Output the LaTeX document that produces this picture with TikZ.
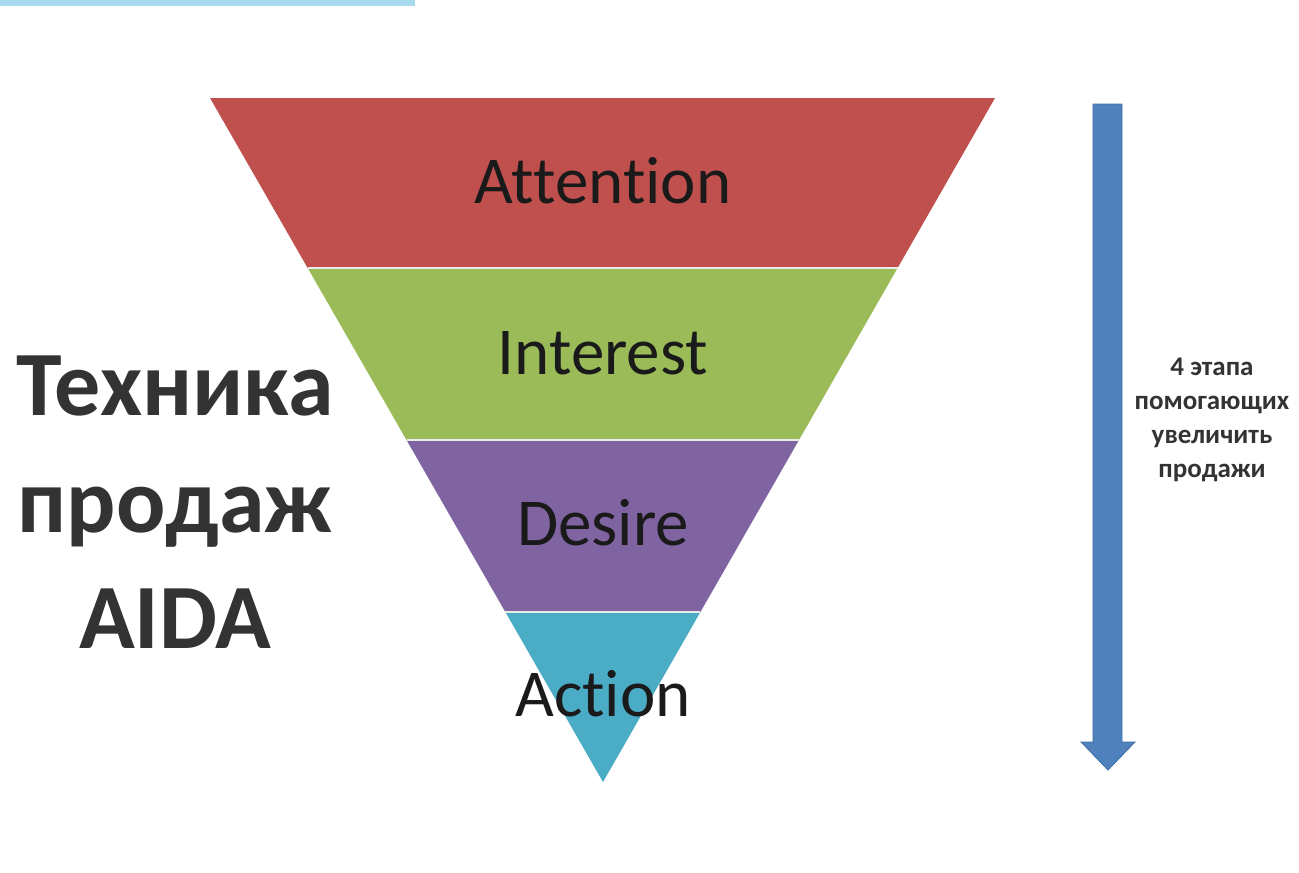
\documentclass[tikz,border=0pt]{standalone}
\usepackage{fontspec}
\setmainfont{Carlito}[Ligatures=NoCommon]
\usetikzlibrary{calc}
\definecolor{cRed}{HTML}{C0504D}
\definecolor{cGreen}{HTML}{9BBB59}
\definecolor{cPurple}{HTML}{8064A2}
\definecolor{cCyan}{HTML}{4BACC6}
\definecolor{cBlue}{HTML}{4F81BD}
\definecolor{cBlueDark}{HTML}{3F6FA8}
\definecolor{cTopBar}{HTML}{A8DAEE}
\definecolor{cText}{HTML}{1A1A1A}
\definecolor{cTitle}{HTML}{333333}
\begin{document}
\begin{tikzpicture}[x=1pt,y=-1pt,
  sep/.style={draw=white!85!gray,line width=1.6pt},
  stage/.style={inner sep=0pt,anchor=base,text=cText,font=\fontsize{67}{78}\selectfont},
  title/.style={inner sep=0pt,anchor=base,text=cTitle,font=\bfseries\fontsize{92}{100}\selectfont},
  note/.style={inner sep=0pt,align=center,text=cTitle,font=\bfseries\fontsize{27}{34}\selectfont}]
\useasboundingbox (0,0) rectangle (1299,873);
\fill[white] (0,0) rectangle (1299,873);
% top bar
\fill[cTopBar] (0,0) rectangle (415,6);
% funnel corners
\coordinate (tl) at (210,98);
\coordinate (tr) at (995,98);
\coordinate (ap) at (603,782);
\coordinate (l1) at ($(tl)!0.2485!(ap)$);
\coordinate (r1) at ($(tr)!0.2485!(ap)$);
\coordinate (l2) at ($(tl)!0.5!(ap)$);
\coordinate (r2) at ($(tr)!0.5!(ap)$);
\coordinate (l3) at ($(tl)!0.7515!(ap)$);
\coordinate (r3) at ($(tr)!0.7515!(ap)$);
\fill[cRed] (tl) -- (tr) -- (r1) -- (l1) -- cycle;
\fill[cGreen] (l1) -- (r1) -- (r2) -- (l2) -- cycle;
\fill[cPurple] (l2) -- (r2) -- (r3) -- (l3) -- cycle;
\fill[cCyan] (l3) -- (r3) -- (ap) -- cycle;
\draw[sep] (l1) -- (r1);
\draw[sep] (l2) -- (r2);
\draw[sep] (l3) -- (r3);
% stage labels
\node[stage] (att) at (603,203) {Attention};
\node[stage] (int) at (603,374) {Interest};
\node[stage] (des) at (603,545) {Desire};
\node[stage] (act) at (603,716) {Action};
% title
\node[title] (t1) at (175,415) {Техника};
\node[title] (t2) at (175,532) {продаж};
\node[title] (t3) at (175,648) {AIDA};
% arrow
\fill[cBlue,draw=cBlueDark,line width=0.8pt] (1093,104) -- (1122,104) -- (1122,742) -- (1135,742) -- (1108,770) -- (1081,742) -- (1093,742) -- cycle;
\node[note] (nt) at (1212,420) {4 этапа\\помогающих\\увеличить\\продажи};
\end{tikzpicture}
\end{document}
